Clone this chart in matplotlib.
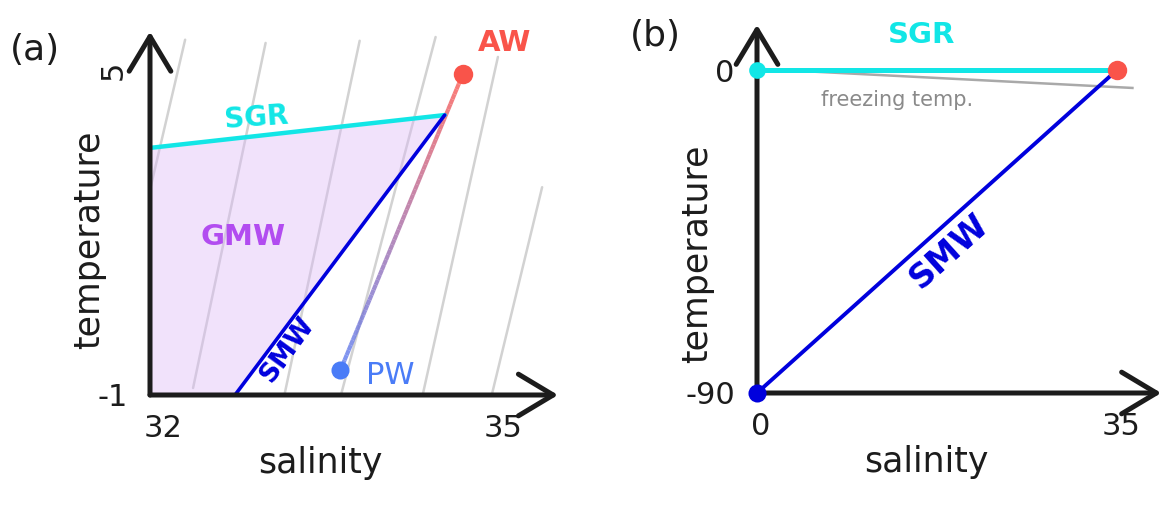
import numpy as np
import matplotlib
matplotlib.use("Agg")
import matplotlib.pyplot as plt
import matplotlib.transforms as mtrans
from matplotlib.collections import LineCollection

# ---- panel (a) data: salinity / temperature ----
a_xlim = (32, 35)
a_ylim = (-1, 5)
a_xticks = [32, 35]
a_yticks = [-1, 5]
# grey isopycnals, (S_top, T_top, S_bottom, T_bottom)
iso_top_s = [32.31, 33.02, 33.85, 34.52, 35.07, 35.46]
iso_top_t = [5.60, 5.54, 5.58, 5.65, 5.28, 2.86]
iso_bot_s = [32.00, 32.38, 33.19, 33.69, 34.41, 35.02]
iso_bot_t = [2.81, -0.87, -0.96, -0.96, -0.96, -0.96]
# GMW polygon corners
gmw_s = [32.0, 32.0, 34.60, 32.75]
gmw_t = [-1.0, 3.59, 4.20, -1.0]
sgr_a_s = [32.0, 34.60]
sgr_a_t = [3.59, 4.20]
smw_a_s = [34.60, 32.75]
smw_a_t = [4.20, -1.0]
aw = (34.76, 4.96)
pw = (33.68, -0.54)

# ---- panel (b) data ----
b_xlim = (0, 35)
b_ylim = (-90, 0)
b_xticks = [0, 35]
b_yticks = [-90, 0]
sgr_b_s = [0, 35]
sgr_b_t = [0, 0]
smw_b_s = [0, 35]
smw_b_t = [-90, 0]
freeze_s = [0.3, 36.5]
freeze_t = [0.3, -5.0]

BLACK = "#1c1c1c"
CYAN = "#12e6e6"
BLUE = "#0000dd"
RED = "#f9544a"
PWBLUE = "#4a7cf7"
PURPLE = "#b24cf0"
GREY = "#d2d2d2"

W, H = 1167, 508
fig = plt.figure(figsize=(W / 100, H / 100), dpi=100)


def make_axes(x0, x1, y0, y1):
    # pixel box -> figure fraction
    return fig.add_axes([x0 / W, (H - y0) / H, (x1 - x0) / W, (y0 - y1) / H])


def arrow_axes(ax, org, xtip, ytip):
    kw = dict(arrowstyle="->,head_length=1.0,head_width=0.6", lw=3.6,
              color=BLACK, mutation_scale=25, capstyle="round",
              joinstyle="round", shrinkA=0, shrinkB=0)
    ax.annotate("", xy=xtip, xytext=org, arrowprops=kw, annotation_clip=False, zorder=6)
    ax.annotate("", xy=ytip, xytext=org, arrowprops=kw, annotation_clip=False, zorder=6)


def style_axes(ax, xlim, ylim, xt, yt, xshift):
    ax.set_xlim(*xlim)
    ax.set_ylim(*ylim)
    for sp in ax.spines.values():
        sp.set_visible(False)
    ax.set_xticks(xt)
    ax.set_yticks(yt)
    ax.set_xticklabels([str(v) for v in xt])
    ax.set_yticklabels([str(v) for v in yt])
    ax.tick_params(length=0, labelsize=22, colors=BLACK)
    ax.tick_params(axis="x", pad=14)
    ax.tick_params(axis="y", pad=16)
    ax.patch.set_alpha(0)
    off = mtrans.ScaledTranslation(xshift / 100, 0, fig.dpi_scale_trans)
    for lab in ax.get_xticklabels():
        lab.set_transform(lab.get_transform() + off)


# ================= panel (a) =================
ax = make_axes(150, 490, 395, 72)
style_axes(ax, a_xlim, a_ylim, a_xticks, a_yticks, 13)
ax.get_yticklabels()[1].set_rotation(90)

for s0, t0, s1, t1 in zip(iso_top_s, iso_top_t, iso_bot_s, iso_bot_t):
    ax.plot([s0, s1], [t0, t1], color=GREY, lw=1.8, solid_capstyle="round",
            clip_on=False, zorder=1)

ax.fill(gmw_s, gmw_t, color="#dcb8f7", alpha=0.4, lw=0, zorder=2)
ax.plot(sgr_a_s, sgr_a_t, color=CYAN, lw=3.2, solid_capstyle="round", zorder=4)
ax.plot(smw_a_s, smw_a_t, color=BLUE, lw=2.6, solid_capstyle="round", zorder=4)

# AW -> PW mixing line, coloured red to blue
t = np.linspace(0, 1, 60)
xs = pw[0] + t * (aw[0] - pw[0])
ys = pw[1] + t * (aw[1] - pw[1])
segs = np.stack([np.column_stack([xs[:-1], ys[:-1]]),
                 np.column_stack([xs[1:], ys[1:]])], axis=1)
c0 = np.array(matplotlib.colors.to_rgb("#5a7cf2"))
c1 = np.array(matplotlib.colors.to_rgb("#ff5a50"))
cols = [tuple(c0 + (c1 - c0) * v) + (0.8,) for v in t[:-1]]
ax.add_collection(LineCollection(segs, colors=cols, linewidths=3.0, zorder=3))

ax.plot(*aw, "o", color=RED, ms=14, mec="none", zorder=5, clip_on=False)
ax.plot(*pw, "o", color=PWBLUE, ms=13, mec="none", zorder=5)

ax.text(32.94, 4.15, "SGR", color=CYAN, fontsize=20, fontweight="bold",
        ha="center", va="center", rotation=4)
ax.text(32.82, 1.93, "GMW", color=PURPLE, fontsize=21, fontweight="bold",
        ha="center", va="center")
ax.text(33.21, -0.16, "SMW", color=BLUE, fontsize=19, fontweight="bold",
        ha="center", va="center", rotation=54)
ax.text(34.12, -0.63, "PW", color=PWBLUE, fontsize=22, ha="center", va="center")
ax.text(35.13, 5.54, "AW", color=RED, fontsize=21, fontweight="bold",
        ha="center", va="center", clip_on=False)

arrow_axes(ax, (32, -1), (35.6, -1), (32, 5.75))
ax.set_xlabel("salinity", fontsize=25, color=BLACK, va="center")
ax.xaxis.set_label_coords(0.5, -0.21)
ax.set_ylabel("temperature", fontsize=25, color=BLACK, va="center")
ax.yaxis.set_label_coords(-0.18, 0.48)

# ================= panel (b) =================
bx = make_axes(757, 1117, 393, 70)
style_axes(bx, b_xlim, b_ylim, b_xticks, b_yticks, 4)

bx.plot(freeze_s, freeze_t, color="#a9a9a9", lw=1.8, clip_on=False, zorder=2)
bx.plot(sgr_b_s, sgr_b_t, color=CYAN, lw=3.6, solid_capstyle="round",
        clip_on=False, zorder=4)
bx.plot(smw_b_s, smw_b_t, color=BLUE, lw=2.8, solid_capstyle="round",
        clip_on=False, zorder=4)
bx.plot(sgr_b_s[0], sgr_b_t[0], "o", color=CYAN, ms=12, mec="none", zorder=7, clip_on=False)
bx.plot(sgr_b_s[1], sgr_b_t[1], "o", color=RED, ms=14, mec="none", zorder=7, clip_on=False)
bx.plot(smw_b_s[0], smw_b_t[0], "o", color=BLUE, ms=13, mec="none", zorder=7, clip_on=False)

bx.text(16.0, 9.7, "SGR", color=CYAN, fontsize=21, fontweight="bold",
        ha="center", va="center", clip_on=False)
bx.text(13.6, -8.4, "freezing temp.", color="#8a8a8a", fontsize=15,
        ha="center", va="center")
bx.text(18.7, -50.5, "SMW", color=BLUE, fontsize=24, fontweight="bold",
        ha="center", va="center", rotation=42)

arrow_axes(bx, (0, -90), (39.3, -90), (0, 12.6))
bx.set_xlabel("salinity", fontsize=25, color=BLACK, va="center")
bx.xaxis.set_label_coords(0.47, -0.215)
bx.set_ylabel("temperature", fontsize=25, color=BLACK, va="center")
bx.yaxis.set_label_coords(-0.167, 0.43)

fig.text(35 / W, 1 - 50 / H, "(a)", fontsize=26, color=BLACK, ha="center", va="center")
fig.text(655 / W, 1 - 36 / H, "(b)", fontsize=26, color=BLACK, ha="center", va="center")

fig.savefig("out.png", dpi=100)
